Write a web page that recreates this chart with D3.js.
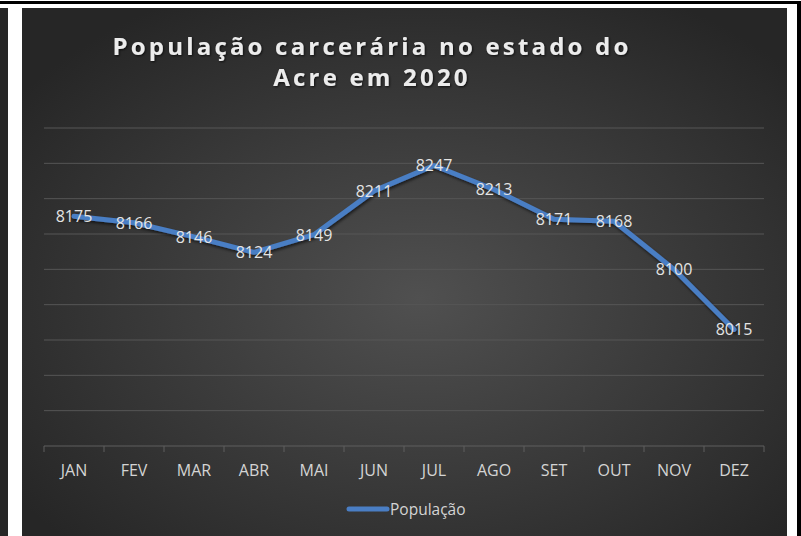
<!DOCTYPE html>
<html>
<head>
<meta charset="utf-8">
<script src="https://cdn.jsdelivr.net/npm/d3@7"></script>
<style>
  html, body { margin: 0; padding: 0; background: #ffffff; }
  svg { display: block; }
</style>
</head>
<body>
<svg id="chart" width="801" height="536"></svg>
<script>
// dados
const months = ["JAN", "FEV", "MAR", "ABR", "MAI", "JUN", "JUL", "AGO", "SET", "OUT", "NOV", "DEZ"];
const population = [8175, 8166, 8146, 8124, 8149, 8211, 8247, 8213, 8171, 8168, 8100, 8015];
const yTicks = [7850, 7900, 7950, 8000, 8050, 8100, 8150, 8200, 8250, 8300];
const titleLines = ["População carcerária no estado do", "Acre em 2020"];
const seriesName = "População";

const svg = d3.select("#chart");
const defs = svg.append("defs");

// fundo com gradiente radial (estilo Excel escuro)
const grad = defs.append("radialGradient").attr("id", "bg")
  .attr("cx", "52%").attr("cy", "55%").attr("r", "65%");
grad.append("stop").attr("offset", "0%").attr("stop-color", "#505050");
grad.append("stop").attr("offset", "100%").attr("stop-color", "#262626");

const shadow = defs.append("filter").attr("id", "shadow")
  .attr("x", "-10%").attr("y", "-10%").attr("width", "120%").attr("height", "130%");
shadow.append("feDropShadow").attr("dx", 1).attr("dy", 2).attr("stdDeviation", 1.5)
  .attr("flood-color", "#000").attr("flood-opacity", 0.6);

const txtShadow = defs.append("filter").attr("id", "tshadow");
txtShadow.append("feDropShadow").attr("dx", 1).attr("dy", 1).attr("stdDeviation", 0.8)
  .attr("flood-color", "#000").attr("flood-opacity", 0.7);

// moldura: faixa preta no topo, sobra de outro grafico a esquerda
svg.append("rect").attr("x", 0).attr("y", 0).attr("width", 801).attr("height", 536).attr("fill", "#ffffff");
svg.append("rect").attr("x", 0).attr("y", 1).attr("width", 801).attr("height", 3).attr("fill", "#000");
svg.append("rect").attr("x", 797).attr("y", 1).attr("width", 4).attr("height", 535).attr("fill", "#000");
svg.append("rect").attr("x", 0).attr("y", 8).attr("width", 8).attr("height", 528).attr("fill", "#262626");
svg.append("rect").attr("x", 22).attr("y", 8).attr("width", 765).attr("height", 528).attr("fill", "url(#bg)");

const margin = { left: 44, right: 764, top: 128, bottom: 446 };

const x = d3.scaleBand().domain(months).range([margin.left, margin.right]);
const y = d3.scaleLinear().domain([7850, 8300]).range([margin.bottom, margin.top]);

// linhas de grade
svg.append("g").selectAll("line").data(yTicks.slice(1)).join("line")
  .attr("x1", margin.left).attr("x2", margin.right)
  .attr("y1", d => y(d)).attr("y2", d => y(d))
  .attr("stroke", "#565656").attr("stroke-width", 1);

// eixo x
const xAxis = svg.append("g").attr("transform", `translate(0,${margin.bottom})`);
xAxis.append("line").attr("x1", margin.left).attr("x2", margin.right)
  .attr("stroke", "#5e5e5e").attr("stroke-width", 1.2);
const tickPos = months.map(m => x(m)).concat([margin.right]);
xAxis.selectAll("line.tick").data(tickPos).join("line").attr("class", "tick")
  .attr("x1", d => d).attr("x2", d => d).attr("y1", 0).attr("y2", 6)
  .attr("stroke", "#5e5e5e");
xAxis.selectAll("text").data(months).join("text")
  .attr("x", d => x(d) + x.bandwidth() / 2).attr("y", 30)
  .attr("text-anchor", "middle")
  .attr("font-family", "Open Sans, sans-serif").attr("font-size", 16)
  .attr("fill", "#d4d4d4").text(d => d);

// linha da serie
const line = d3.line()
  .x((d, i) => x(months[i]) + x.bandwidth() / 2)
  .y(d => y(d));
svg.append("path").datum(population)
  .attr("d", line).attr("fill", "none")
  .attr("stroke", "#4a7ec4").attr("stroke-width", 5)
  .attr("stroke-linejoin", "round").attr("stroke-linecap", "round")
  .attr("filter", "url(#shadow)");

// rotulos de dados
svg.append("g").selectAll("text").data(population).join("text")
  .attr("x", (d, i) => x(months[i]) + x.bandwidth() / 2)
  .attr("y", d => y(d) + 6)
  .attr("text-anchor", "middle")
  .attr("font-family", "Open Sans, sans-serif").attr("font-size", 16)
  .attr("fill", "#e4e4e4").text(d => d);

// titulo
svg.append("g").selectAll("text").data(titleLines).join("text")
  .attr("x", 372).attr("y", (d, i) => 55 + i * 31)
  .attr("text-anchor", "middle")
  .attr("font-family", "Open Sans, sans-serif").attr("font-weight", "bold")
  .attr("font-size", 24).attr("letter-spacing", 3.2)
  .attr("fill", "#ececec").attr("filter", "url(#tshadow)")
  .text(d => d);

// legenda
const legend = svg.append("g").attr("transform", "translate(347,509)");
legend.append("line").attr("x1", 2).attr("x2", 40)
  .attr("stroke", "#4a7ec4").attr("stroke-width", 5).attr("stroke-linecap", "round");
legend.append("text").attr("x", 43).attr("y", 5.5)
  .attr("font-family", "Open Sans, sans-serif").attr("font-size", 15.5)
  .attr("fill", "#d4d4d4").text(seriesName);
</script>
</body>
</html>
